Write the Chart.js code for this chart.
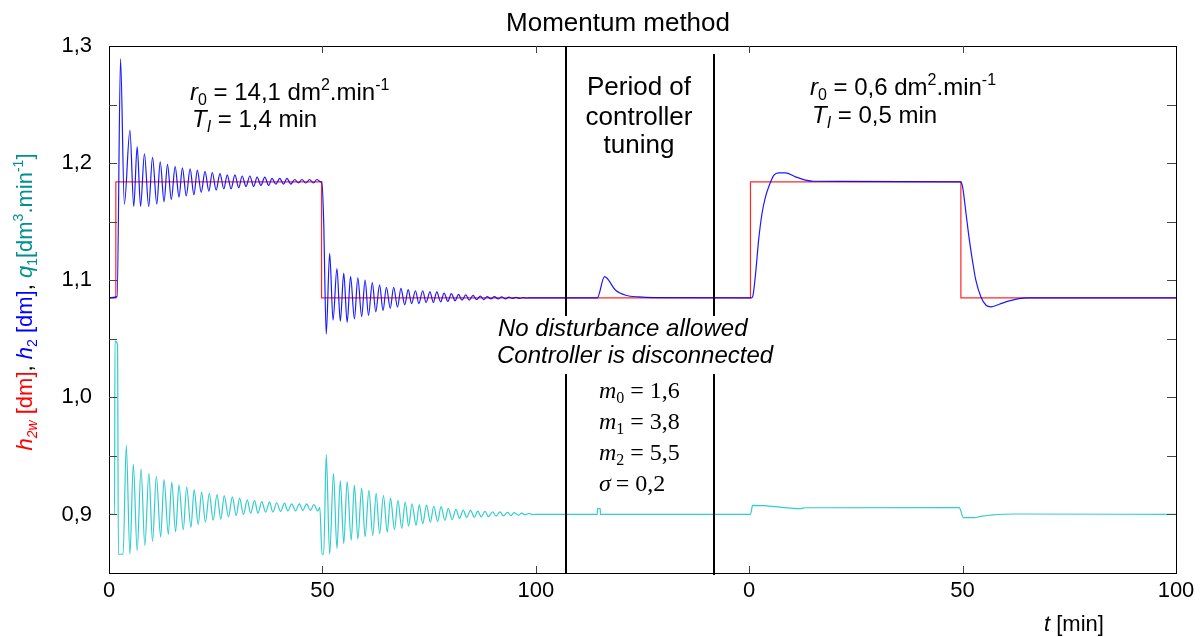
<!DOCTYPE html>
<html>
<head>
<meta charset="utf-8">
<script src="https://cdn.jsdelivr.net/npm/chart.js@4.4.0/dist/chart.umd.min.js"></script>
<style>
  html, body { margin: 0; padding: 0; background: #fff; }
</style>
</head>
<body>
<canvas id="chart" width="1204" height="637"></canvas>
<script>
// time axis: run 1 (0..100 min), tuning period, run 2 (0..100 min)
const tuneStart = 100;
const run2Start = 150;
const tuneMarks = [107.1, 141.7];
const xTickPos = [0, 50, 100, 150, 200, 250];
const xTickLabels = ['0', '50', '100', '0', '50', '100'];
const yTickPos = [0.9, 1.0, 1.1, 1.2, 1.3];
const yTickLabels = ['0,9', '1,0', '1,1', '1,2', '1,3'];

// h2w - setpoint [dm]
const h2wRun1 = [[0, 1.085], [1.6, 1.085], [1.6, 1.184], [49.8, 1.184], [49.8, 1.085], [100, 1.085]];
const h2wTune = [[0, 1.085], [50, 1.085]];
const h2wRun2 = [[0, 1.085], [0.3, 1.085], [0.3, 1.184], [49.6, 1.184], [49.6, 1.085], [100, 1.085]];

// h2 - level [dm]
const h2Run1 = [
  [0, 1.085], [1.9, 1.086], [2.7, 1.289], [3.6, 1.165], [4.9, 1.228], [5.8, 1.163], [6.6, 1.214], [7.4, 1.163],
  [8.3, 1.208], [9.3, 1.163], [10.2, 1.205], [11.2, 1.165], [12.0, 1.201], [12.9, 1.167], [13.7, 1.199], [14.6, 1.169],
  [15.5, 1.197], [16.4, 1.171], [17.2, 1.196], [18.1, 1.172], [19.0, 1.195], [19.9, 1.173], [20.7, 1.194], [21.6, 1.175],
  [22.5, 1.193], [23.4, 1.176], [24.2, 1.192], [25.1, 1.177], [26.0, 1.191], [26.9, 1.178], [27.7, 1.190], [28.6, 1.178],
  [29.5, 1.190], [30.4, 1.179], [31.2, 1.189], [32.1, 1.180], [33.0, 1.189], [33.9, 1.180], [34.7, 1.188], [35.6, 1.181],
  [36.5, 1.188], [37.4, 1.181], [38.2, 1.187], [39.1, 1.182], [40.0, 1.187], [40.9, 1.182], [41.7, 1.187], [42.6, 1.182],
  [43.5, 1.186], [44.4, 1.183], [45.2, 1.186], [46.1, 1.183], [47.0, 1.186], [47.9, 1.183], [48.7, 1.186], [49.6, 1.184],
  [49.9, 1.184], [50.3, 1.150], [50.9, 1.054], [51.7, 1.123], [52.5, 1.066], [53.4, 1.110], [54.2, 1.065], [55.0, 1.106],
  [55.8, 1.064], [56.6, 1.103], [57.5, 1.067], [58.3, 1.102], [59.2, 1.069], [60.0, 1.100], [60.8, 1.070], [61.7, 1.098],
  [62.5, 1.073], [63.4, 1.096], [64.2, 1.074], [65.0, 1.094], [65.9, 1.076], [66.7, 1.094], [67.6, 1.077], [68.4, 1.093],
  [69.3, 1.079], [70.1, 1.092], [70.9, 1.080], [71.8, 1.091], [72.6, 1.080], [73.5, 1.091], [74.3, 1.081], [75.2, 1.090],
  [76.0, 1.081], [76.8, 1.090], [77.7, 1.0815], [78.5, 1.089], [79.4, 1.082], [80.2, 1.0885], [81.1, 1.0825], [81.9, 1.088],
  [82.7, 1.083], [83.6, 1.0875], [84.4, 1.083], [85.3, 1.087], [86.1, 1.0835], [87.0, 1.0865], [87.8, 1.0835], [88.6, 1.086],
  [89.5, 1.084], [90.3, 1.086], [91.2, 1.084], [92.0, 1.0858], [92.9, 1.084], [93.7, 1.0855], [94.5, 1.0845], [95.4, 1.0853],
  [96.2, 1.0845], [97.1, 1.0852], [97.9, 1.0848], [98.8, 1.085], [100, 1.085]
];
const h2Tune = [[0, 1.085], [14.4, 1.085], [16.1, 1.103], [18.7, 1.0915], [21.1, 1.0872], [24.2, 1.0857], [27.7, 1.0852], [50, 1.085]];
const h2Run2 = [
  [0, 1.085], [0.5, 1.085], [0.8, 1.0858], [1.5, 1.1057], [2.2, 1.134], [3.0, 1.157], [3.8, 1.171], [4.6, 1.180],
  [5.8, 1.1897], [6.9, 1.1917], [8.5, 1.1917], [10.8, 1.1883], [13.2, 1.1855], [15.1, 1.1845], [49.5, 1.184],
  [50.0, 1.1798], [50.8, 1.157], [51.6, 1.134], [52.3, 1.117], [53.1, 1.100], [54.3, 1.0857], [55.5, 1.0786],
  [56.6, 1.0772], [58.6, 1.0795], [60.9, 1.0823], [63.2, 1.0843], [65.0, 1.085], [100, 1.085]
];

// q1 - inflow [dm3/min]
const q1Run1 = [
  [0, 0.900], [1.3, 0.900], [1.4, 1.048], [2.0, 1.045], [2.2, 0.866], [3.3, 0.866], [4.05, 0.959], [4.9, 0.866],
  [5.7, 0.943], [6.6, 0.869], [7.5, 0.939], [8.4, 0.8735], [9.35, 0.935], [10.2, 0.877], [11.1, 0.9325], [12.1, 0.8806],
  [12.9, 0.9297], [13.9, 0.883], [14.7, 0.9276], [15.6, 0.885], [16.4, 0.925], [17.4, 0.887], [18.2, 0.9234], [19.2, 0.889],
  [19.95, 0.921], [20.9, 0.8915], [21.7, 0.919], [22.6, 0.8934], [23.5, 0.918], [24.4, 0.895], [25.3, 0.917], [26.2, 0.896],
  [27.0, 0.916], [28.0, 0.898], [28.9, 0.915], [29.8, 0.899], [30.6, 0.914], [31.5, 0.900], [32.4, 0.9125], [33.2, 0.901],
  [34.1, 0.912], [34.9, 0.901], [35.8, 0.911], [36.7, 0.902], [37.6, 0.9105], [38.4, 0.902], [39.3, 0.910], [40.2, 0.9025],
  [41.1, 0.9097], [41.9, 0.903], [42.8, 0.909], [43.7, 0.903], [44.6, 0.909], [45.4, 0.9035], [46.3, 0.909], [47.2, 0.9035],
  [48.0, 0.9085], [48.9, 0.903], [49.4, 0.906], [49.9, 0.866], [50.3, 0.866], [50.9, 0.951], [51.7, 0.866], [52.6, 0.935],
  [53.4, 0.871], [54.2, 0.929], [55.0, 0.875], [55.8, 0.928], [56.75, 0.878], [57.5, 0.925], [58.3, 0.879], [59.2, 0.9225],
  [60.0, 0.881], [60.9, 0.9205], [61.8, 0.882], [62.6, 0.918], [63.4, 0.8835], [64.3, 0.916], [65.2, 0.885], [65.95, 0.914],
  [66.9, 0.887], [67.7, 0.912], [68.6, 0.888], [69.4, 0.9105], [70.2, 0.890], [71.0, 0.909], [71.95, 0.8906], [72.7, 0.9085],
  [73.5, 0.892], [74.4, 0.908], [75.3, 0.8935], [76.1, 0.907], [77.0, 0.894], [77.8, 0.9066], [78.7, 0.895], [79.5, 0.9052],
  [80.4, 0.8957], [81.3, 0.9043], [82.1, 0.8966], [83.0, 0.9037], [83.8, 0.8974], [84.7, 0.9035], [85.6, 0.8976], [86.4, 0.9028],
  [87.2, 0.898], [88.1, 0.9027], [88.9, 0.8982], [89.9, 0.9023], [90.7, 0.8986], [91.6, 0.9022], [92.4, 0.8988], [93.4, 0.9017],
  [94.2, 0.899], [94.9, 0.9015], [95.9, 0.8994], [96.7, 0.9012], [97.5, 0.8996], [98.5, 0.901], [99.2, 0.8999], [100, 0.900]
];
const q1Tune = [[0, 0.900], [14.4, 0.900], [14.45, 0.905], [15.1, 0.905], [15.15, 0.900], [50, 0.900]];
const q1Run2 = [
  [0, 0.900], [0.3, 0.900], [0.8, 0.9077], [4.2, 0.9074], [6.2, 0.9066], [12.1, 0.905], [13.1, 0.9057], [49.2, 0.9058],
  [50.2, 0.8972], [52.7, 0.8972], [54.2, 0.8983], [57.1, 0.8997], [62.6, 0.9004], [100, 0.900]
];

function joinRuns(run1, tune, run2) {
  return [].concat(
    run1.map(p => ({ x: p[0], y: p[1] })),
    tune.map(p => ({ x: p[0] + tuneStart, y: p[1] })),
    run2.map(p => ({ x: p[0] + run2Start, y: p[1] }))
  );
}

const SANS = '"Liberation Sans", Arial, sans-serif';
const SERIF = '"Liberation Serif", "Times New Roman", serif';

// draws a line of text made of styled pieces (italic, sub, sup, colour)
function richText(ctx, parts, x, y, size, family, align) {
  const fontFor = p => {
    const s = (p.sub || p.sup) ? Math.round(size * 0.65) : size;
    return (p.i ? 'italic ' : '') + s + 'px ' + family;
  };
  let w = 0;
  parts.forEach(p => { ctx.font = fontFor(p); w += ctx.measureText(p.t).width; });
  let cx = align === 'center' ? x - w / 2 : x;
  ctx.textAlign = 'left';
  ctx.textBaseline = 'alphabetic';
  parts.forEach(p => {
    ctx.font = fontFor(p);
    ctx.fillStyle = p.c || '#000';
    const dy = p.sub ? size * 0.22 : (p.sup ? -size * 0.42 : 0);
    ctx.fillText(p.t, cx, y + dy);
    cx += ctx.measureText(p.t).width;
  });
}

const decorPlugin = {
  id: 'decor',
  afterDatasetsDraw(chart) {
    const ctx = chart.ctx;
    const a = chart.chartArea;
    const xs = chart.scales.x, ys = chart.scales.y;
    ctx.save();

    // frame
    ctx.strokeStyle = '#000';
    ctx.lineWidth = 1;
    ctx.strokeRect(Math.round(a.left) + 0.5, Math.round(a.top) + 0.5, Math.round(a.right - a.left), Math.round(a.bottom - a.top));

    // inward ticks
    ctx.strokeStyle = '#444';
    for (let v = 0.9; v < 1.29; v += 0.05) {
      const py = Math.round(ys.getPixelForValue(v)) + 0.5;
      ctx.beginPath();
      ctx.moveTo(a.left, py); ctx.lineTo(a.left + 8, py);
      ctx.moveTo(a.right, py); ctx.lineTo(a.right - 9, py);
      ctx.stroke();
    }
    xTickPos.slice(1, -1).forEach(v => {
      const px = Math.round(xs.getPixelForValue(v)) + 0.5;
      ctx.beginPath();
      ctx.moveTo(px, a.bottom); ctx.lineTo(px, a.bottom - 7);
      ctx.moveTo(px, a.top); ctx.lineTo(px, a.top + 7);
      ctx.stroke();
    });

    // tuning period boundaries (broken around the italic note)
    ctx.strokeStyle = '#000';
    ctx.lineWidth = 2;
    tuneMarks.forEach((v, i) => {
      const px = Math.round(xs.getPixelForValue(v));
      ctx.beginPath();
      ctx.moveTo(px, i === 0 ? a.top : a.top + 8); ctx.lineTo(px, 316);
      ctx.moveTo(px, 374); ctx.lineTo(px, a.bottom + (i === 0 ? 0 : 2));
      ctx.stroke();
    });

    // title and notes
    ctx.fillStyle = '#000';
    richText(ctx, [{ t: 'Momentum method' }], 618, 31, 26, SANS, 'center');

    richText(ctx, [{ t: 'r', i: true }, { t: '0', sub: true }, { t: ' = 14,1 dm' }, { t: '2', sup: true }, { t: '.min' }, { t: '-1', sup: true }], 190, 100, 24, SANS);
    richText(ctx, [{ t: 'T', i: true }, { t: 'I', i: true, sub: true }, { t: ' = 1,4 min' }], 192, 127, 24, SANS);

    richText(ctx, [{ t: 'r', i: true }, { t: '0', sub: true }, { t: ' = 0,6 dm' }, { t: '2', sup: true }, { t: '.min' }, { t: '-1', sup: true }], 810, 95, 24, SANS);
    richText(ctx, [{ t: 'T', i: true }, { t: 'I', i: true, sub: true }, { t: ' = 0,5 min' }], 812, 123, 24, SANS);

    richText(ctx, [{ t: 'Period of' }], 639, 95, 26, SANS, 'center');
    richText(ctx, [{ t: 'controller' }], 639, 125, 26, SANS, 'center');
    richText(ctx, [{ t: 'tuning' }], 639, 153, 26, SANS, 'center');

    richText(ctx, [{ t: 'No disturbance allowed', i: true }], 498, 336, 24, SANS);
    richText(ctx, [{ t: 'Controller is disconnected', i: true }], 497, 363, 24, SANS);

    richText(ctx, [{ t: 'm', i: true }, { t: '0', sub: true }, { t: ' = 1,6' }], 599, 398, 24, SERIF);
    richText(ctx, [{ t: 'm', i: true }, { t: '1', sub: true }, { t: ' = 3,8' }], 599, 429, 24, SERIF);
    richText(ctx, [{ t: 'm', i: true }, { t: '2', sub: true }, { t: ' = 5,5' }], 599, 460, 24, SERIF);
    richText(ctx, [{ t: '\u03c3', i: true }, { t: '\u2009= 0,2' }], 599, 491, 24, SERIF);

    // axis titles
    richText(ctx, [{ t: 't', i: true }, { t: ' [min]' }], 1044, 631, 22, SANS);

    ctx.translate(32, 302);
    ctx.rotate(-Math.PI / 2);
    richText(ctx, [
      { t: 'h', i: true, c: '#ff0000' }, { t: '2w', i: true, sub: true, c: '#ff0000' }, { t: ' [dm]', c: '#ff0000' },
      { t: ', ' },
      { t: 'h', i: true, c: '#0000ff' }, { t: '2', sub: true, c: '#0000ff' }, { t: ' [dm]', c: '#0000ff' },
      { t: ', ' },
      { t: 'q', i: true, c: '#009090' }, { t: '1', sub: true, c: '#009090' }, { t: '[dm', c: '#009090' },
      { t: '3', sup: true, c: '#009090' }, { t: '.min', c: '#009090' }, { t: '-1', sup: true, c: '#009090' }, { t: ']', c: '#009090' }
    ], 0, 0, 22, SANS, 'center');

    ctx.restore();
  }
};

const ctx = document.getElementById('chart').getContext('2d');
const chart = new Chart(ctx, {
  type: 'line',
  data: {
    datasets: [
      {
        label: 'h2',
        data: joinRuns(h2Run1, h2Tune, h2Run2),
        borderColor: 'rgba(0, 0, 255, 0.9)',
        borderWidth: 1.2,
        cubicInterpolationMode: 'monotone'
      },
      {
        label: 'h2w',
        data: joinRuns(h2wRun1, h2wTune, h2wRun2),
        borderColor: 'rgba(255, 0, 0, 0.85)',
        borderWidth: 1.2
      },
      {
        label: 'q1',
        data: joinRuns(q1Run1, q1Tune, q1Run2),
        borderColor: '#33cccc',
        borderWidth: 1.2,
        cubicInterpolationMode: 'monotone'
      }
    ]
  },
  options: {
    responsive: false,
    animation: false,
    elements: { point: { radius: 0 }, line: { tension: 0 } },
    layout: { padding: { top: 46, right: 28, left: 0, bottom: 0 } },
    plugins: { legend: { display: false }, tooltip: { enabled: false } },
    scales: {
      x: {
        type: 'linear',
        min: 0,
        max: 250,
        grid: { display: false, drawTicks: false },
        border: { display: false },
        afterBuildTicks: scale => { scale.ticks = xTickPos.map(v => ({ value: v })); },
        afterFit: scale => { scale.height = 64; },
        ticks: {
          color: '#000',
          padding: 5,
          maxRotation: 0,
          autoSkip: false,
          font: { family: SANS, size: 22 },
          callback: (value, index) => xTickLabels[index]
        }
      },
      y: {
        type: 'linear',
        min: 0.85,
        max: 1.3,
        grid: { display: false, drawTicks: false },
        border: { display: false },
        afterBuildTicks: scale => { scale.ticks = yTickPos.map(v => ({ value: v })); },
        afterFit: scale => { scale.width = 109; },
        ticks: {
          color: '#000',
          padding: 17,
          font: { family: SANS, size: 22 },
          callback: (value, index) => yTickLabels[index]
        }
      }
    }
  },
  plugins: [decorPlugin]
});
</script>
</body>
</html>
